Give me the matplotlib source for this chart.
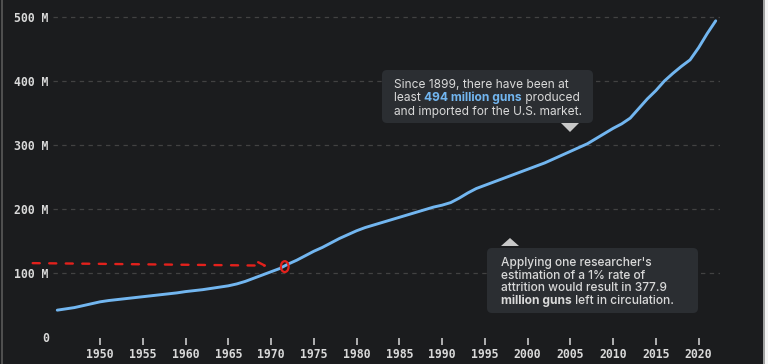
import matplotlib
matplotlib.use("Agg")
import matplotlib.pyplot as plt
from matplotlib.patches import FancyBboxPatch, Polygon, Ellipse, Rectangle
from matplotlib.lines import Line2D
from matplotlib.ticker import FuncFormatter

# ---------------- data ----------------
years = list(range(1945, 2023))
guns_millions = [
    42, 44, 46, 49, 52,            # 1945-1949
    55, 57, 58.5, 60, 61.5,        # 1950-1954
    63, 64.5, 66, 67.5, 69,        # 1955-1959
    71, 72.5, 74, 76, 78,          # 1960-1964
    80, 83, 87, 92, 97,            # 1965-1969
    102, 107, 114, 120, 127,       # 1970-1974
    134, 140, 147, 154, 160,       # 1975-1979
    166, 171, 175, 179, 183,       # 1980-1984
    187, 191, 195, 199, 203,       # 1985-1989
    206, 210, 217, 225, 232,       # 1990-1994
    237, 242, 247, 252, 257,       # 1995-1999
    262, 267, 272, 278, 284,       # 2000-2004
    290, 296, 302, 310, 318,       # 2005-2009
    326, 333, 342, 357, 372,       # 2010-2014
    385, 400, 412, 423, 433,       # 2015-2019
    452, 474, 494,                 # 2020-2022
]
x_ticks = [1950, 1955, 1960, 1965, 1970, 1975, 1980, 1985, 1990, 1995,
           2000, 2005, 2010, 2015, 2020]
y_ticks = [0, 100, 200, 300, 400, 500]

note1_lines = [
    [("Since 1899, there have been at", "n")],
    [("least ", "n"), ("494 million guns", "hb"), (" produced", "n")],
    [("and imported for the U.S. market.", "n")],
]
note2_lines = [
    [("Applying one researcher's", "m")],
    [("estimation of a 1% rate of", "m")],
    [("attrition would result in 377.9", "m")],
    [("million guns", "b"), (" left in circulation.", "m")],
]

# hand-drawn red markup (data coords)
markup_start = (1941.8, 115.5)
markup_end = (1969.9, 111.5)
markup_circle = (1971.6, 110)

# ---------------- style ----------------
BG = "#1b1c1e"
TXT = "#d9d9d9"
LINE = "#72b6f0"
BOX = "#2b2e32"
W, H = 768, 364

fig = plt.figure(figsize=(W / 100, H / 100), dpi=100)
fig.patch.set_facecolor(BG)
ax = fig.add_axes([53 / W, (H - 338) / H, (720 - 53) / W, (338 - 8) / H])
ax.set_facecolor(BG)

ax.plot(years, guns_millions, color=LINE, lw=2.1, solid_capstyle="round",
        solid_joinstyle="round", zorder=3)

ax.set_xlim(1944.5, 2022.5)
ax.set_ylim(-1.5, 514)
ax.set_xticks(x_ticks)
ax.set_yticks(y_ticks)
ax.yaxis.set_major_formatter(FuncFormatter(lambda v, p: "0" if v == 0 else f"{int(v)} M"))
for s in ax.spines.values():
    s.set_visible(False)
ax.tick_params(axis="x", length=5, width=1.1, color=TXT, pad=2, labelcolor=TXT,
               labelsize=8.3)
ax.tick_params(axis="y", length=0, pad=3, labelcolor=TXT, labelsize=8.3)
for lab in ax.get_xticklabels() + ax.get_yticklabels():
    lab.set_fontfamily("DejaVu Sans Mono")
    lab.set_fontweight("bold")
for yv in y_ticks[1:]:
    ax.axhline(yv, color="#424242", lw=0.9, ls=(0, (3.5, 3.5)), zorder=1)

# red markup
ax.annotate("", xy=markup_end, xytext=markup_start,
            arrowprops=dict(arrowstyle="->", color="#e3211c", lw=1.7,
                            ls=(0, (3, 4)), mutation_scale=12),
            annotation_clip=False, zorder=5)
ax.add_patch(Ellipse(markup_circle, width=0.9, height=17, fill=False,
                     ec="#e3211c", lw=1.6, zorder=5))

# ---------------- annotation boxes (figure pixel coords) ----------------
def px(x, y):
    return x, H - y

def add_box(x0, y0, x1, y1):
    p = FancyBboxPatch(px(x0, y1), x1 - x0, y1 - y0,
                       boxstyle="round,pad=0,rounding_size=5",
                       transform=None, fc=BOX, ec="none", zorder=4)
    fig.patches.append(p)

def add_tri(pts):
    fig.patches.append(Polygon([px(*p) for p in pts], closed=True,
                               transform=None, fc="#c8c8c8", ec="none", zorder=4))

fig.canvas.draw()
renderer = fig.canvas.get_renderer()

def draw_lines(lines, x0, base0, step, size):
    for i, segs in enumerate(lines):
        x = x0
        yb = base0 + i * step
        for txt, st in segs:
            kw = dict(fontsize=size, family=["Inter", "DejaVu Sans"], color=TXT,
                      va="baseline", ha="left", transform=None, zorder=10)
            if "b" in st:
                kw["fontweight"] = "bold"
            elif "m" in st:
                kw["fontweight"] = "medium"
            if "h" in st:
                kw["color"] = LINE
            t = fig.text(*px(x, yb), txt, **kw)
            bb = t.get_window_extent(renderer)
            x += bb.width

add_box(382, 70, 593, 123)
add_tri([(561, 123), (579, 123), (570, 132)])
draw_lines(note1_lines, 394, 87.5, 13.5, 8.6)

add_box(487, 248, 698, 313)
add_tri([(501, 246), (519, 246), (510, 238)])
draw_lines(note2_lines, 501, 266, 12.6, 8.6)

# screenshot frame edges
fig.lines.append(Line2D([2, 2], [0, H], transform=None, color="#5a5a5a", lw=1.2))
fig.lines.append(Line2D([764, 764], [0, H], transform=None, color="#bdbdbd", lw=1.2))
fig.patches.append(Rectangle((765, 0), 3, H, transform=None, fc="#f4f4f4", ec="none"))

fig.savefig("out.png", dpi=100, facecolor=BG)
